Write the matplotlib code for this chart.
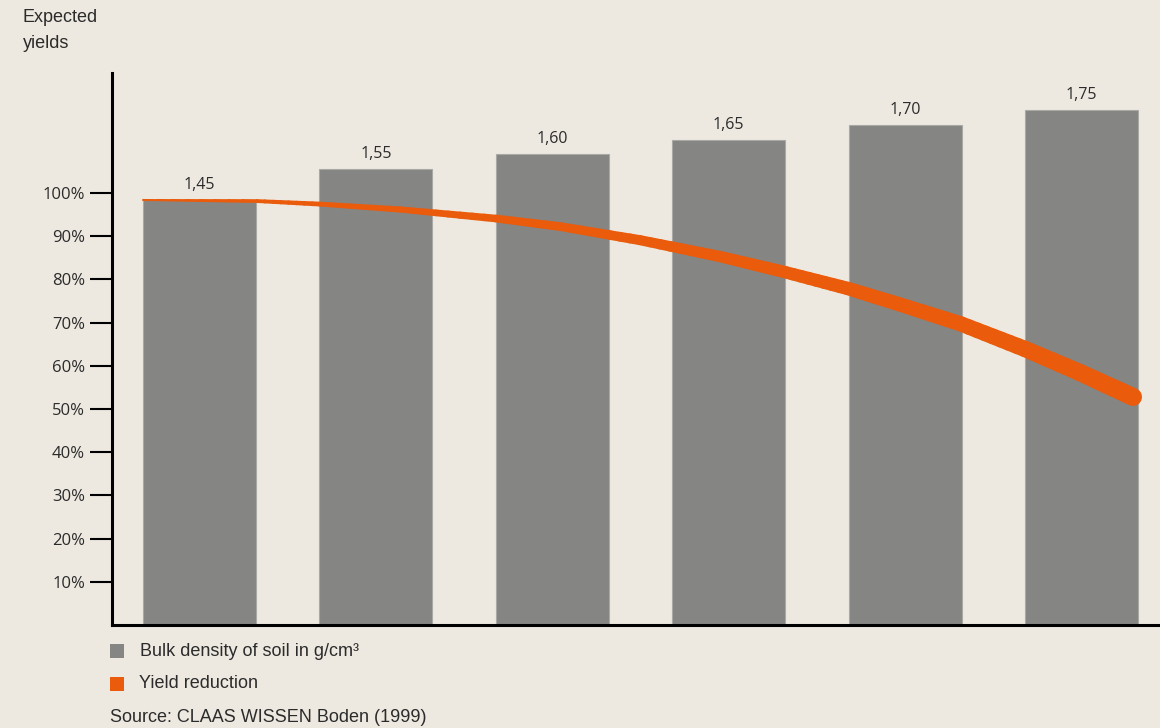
import matplotlib
matplotlib.use("Agg")
import matplotlib.pyplot as plt
import numpy as np
from matplotlib.collections import LineCollection
from matplotlib.patches import Rectangle

# --- data ---
densities = ["1,45", "1,55", "1,60", "1,65", "1,70", "1,75"]
bar_heights = [98.3, 105.6, 109.0, 112.3, 115.7, 119.2]   # on the % scale
yield_ticks = [10, 20, 30, 40, 50, 60, 70, 80, 90, 100]
tick_labels = [f"{t}%" for t in yield_ticks]

# yield reduction curve (x in category units, y in %)
curve_x = [-0.320, 0.326, 0.683, 1.137, 1.681, 2.044, 2.497, 2.951,
           3.319, 3.676, 3.971, 4.317, 4.680, 4.991, 5.292]
curve_y = [98.4, 98.15, 97.45, 96.2, 94.1, 92.25, 89.1, 85.3,
           81.7, 77.9, 74.2, 69.7, 63.9, 58.45, 52.8]

BG = "#ede9e0"
BAR = "#858584"
ORANGE = "#ea5b0c"
TEXT = "#2b2b2b"

W, H = 1160, 728


def fx(px):
    return px / W


def fy(py):
    return 1 - py / H


fig = plt.figure(figsize=(W / 100, H / 100), dpi=100, facecolor=BG)
ax = fig.add_axes([fx(112), fy(625), 1 - fx(112), (625 - 73) / H])
ax.set_facecolor(BG)

x = np.arange(len(densities))
ax.bar(x, bar_heights, width=0.64, color=BAR, edgecolor="#a9a9a6", linewidth=0.8, zorder=2)

for xi, h, lab in zip(x, bar_heights, densities):
    ax.annotate(lab, (xi, h), xytext=(0, 11), textcoords="offset points",
                ha="center", va="center", fontsize=11.5, family="Open Sans",
                color=TEXT, zorder=5)

# tapered orange line: split each straight piece so the width grows smoothly
x0, x1 = curve_x[0], curve_x[-1]
segs, widths = [], []
for (xa, ya), (xb, yb) in zip(zip(curve_x[:-1], curve_y[:-1]), zip(curve_x[1:], curve_y[1:])):
    t = np.linspace(0, 1, 9)
    xs = xa + (xb - xa) * t
    ys = ya + (yb - ya) * t
    for i in range(len(t) - 1):
        segs.append([(xs[i], ys[i]), (xs[i + 1], ys[i + 1])])
        xm = 0.5 * (xs[i] + xs[i + 1])
        widths.append(1.4 + (13.0 - 1.4) * (xm - x0) / (x1 - x0))
lc = LineCollection(segs, linewidths=widths, colors=ORANGE, capstyle="round",
                    joinstyle="round", zorder=3)
ax.add_collection(lc)

ax.set_xlim(-0.496, 5.445)
ax.set_ylim(0, 127.8)
ax.set_xticks([])
ax.set_yticks(yield_ticks)
ax.set_yticklabels(tick_labels, fontsize=12, family="Open Sans", color=TEXT)
ax.tick_params(axis="y", direction="out", length=16, width=1.5, pad=3.5, color="black")

for s in ("top", "right"):
    ax.spines[s].set_visible(False)
for s in ("left", "bottom"):
    ax.spines[s].set_linewidth(2.2)
    ax.spines[s].set_color("black")

# axis title
fig.text(fx(23), fy(18), "Expected", fontsize=13, family="Liberation Sans",
         color=TEXT, ha="left", va="center")
fig.text(fx(23), fy(44), "yields", fontsize=13, family="Liberation Sans",
         color=TEXT, ha="left", va="center")

# legend
fig.add_artist(Rectangle((fx(110), fy(658)), 14 / W, 14 / H, transform=fig.transFigure,
                         color=BAR, lw=0))
fig.add_artist(Rectangle((fx(110), fy(691)), 14 / W, 14 / H, transform=fig.transFigure,
                         color=ORANGE, lw=0))
fig.text(fx(140), fy(651), "Bulk density of soil in g/cm³", fontsize=13,
         family="Liberation Sans", color=TEXT, ha="left", va="center")
fig.text(fx(139), fy(684), "Yield reduction", fontsize=13,
         family="Liberation Sans", color=TEXT, ha="left", va="center")
fig.text(fx(110), fy(717), "Source: CLAAS WISSEN Boden (1999)", fontsize=13,
         family="Liberation Sans", color=TEXT, ha="left", va="center")

fig.savefig("out.png", dpi=100, facecolor=BG)
